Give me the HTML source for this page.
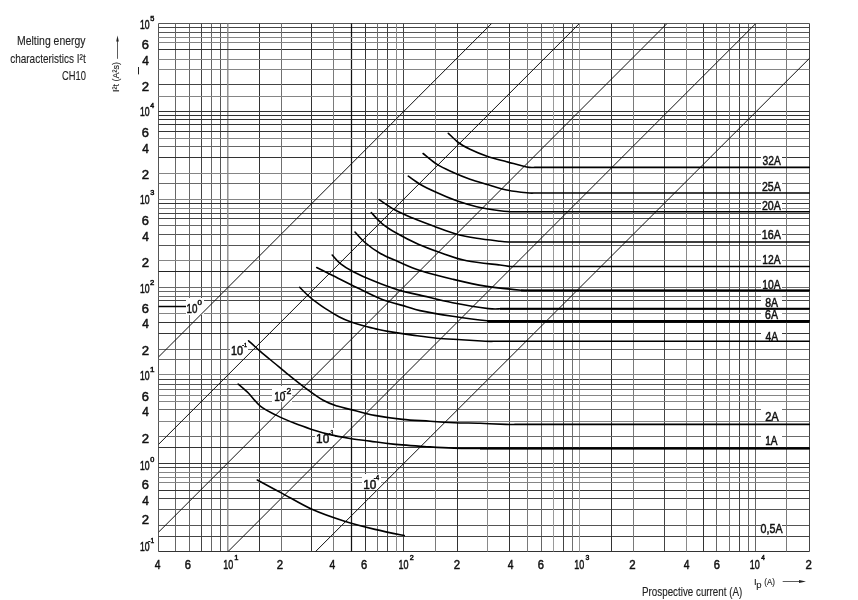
<!DOCTYPE html><html><head><meta charset="utf-8"><style>html,body{margin:0;padding:0;background:#fff;width:858px;height:600px;overflow:hidden}svg{display:block}text{font-family:"Liberation Sans",sans-serif;fill:#111;stroke:#111;stroke-width:0.5px}text.n{stroke:#222;stroke-width:0.12px;fill:#222}svg{will-change:transform}</style></head><body>
<svg width="858" height="600" viewBox="0 0 858 600">
<defs><clipPath id="c"><rect x="158.7" y="23.7" width="650.5" height="527.7"/></clipPath></defs>
<path d="M158.5 23.5V551.5M220.5 23.5V551.5M158.5 23.5H809.5M158.5 32.5H809.5M158.5 234.5H809.5M158.5 245.5H809.5M158.5 384.5H809.5M158.5 509.5H809.5M158.5 525.5H809.5" stroke="#555" stroke-width="1" fill="none"/>
<path d="M175.5 23.5V551.5M189.5 23.5V551.5M211.5 23.5V551.5M541.5 23.5V551.5M716.5 23.5V551.5M748.5 23.5V551.5M755.5 23.5V551.5M158.5 146.5H809.5M158.5 225.5H809.5M158.5 291.5H809.5M158.5 349.5H809.5" stroke="#666" stroke-width="1" fill="none"/>
<path d="M201.5 23.5V551.5M387.5 23.5V551.5M403.5 23.5V551.5M563.5 23.5V551.5M664.5 23.5V551.5M739.5 23.5V551.5M809.5 23.5V551.5M158.5 27.5H809.5M158.5 84.5H809.5M158.5 213.5H809.5M158.5 218.5H809.5M158.5 300.5H809.5M158.5 379.5H809.5M158.5 467.5H809.5M158.5 498.5H809.5M158.5 536.5H809.5" stroke="#444" stroke-width="1" fill="none"/>
<path d="M227.8 23.5V551.5" stroke="#8a8a8a" stroke-width="1.4" fill="none"/>
<path d="M259.5 23.5V551.5M311.5 23.5V551.5M365.5 23.5V551.5M457.5 23.5V551.5M509.5 23.5V551.5M611.5 23.5V551.5M703.5 23.5V551.5M158.5 49.5H809.5M158.5 111.5H809.5M158.5 115.5H809.5M158.5 119.5H809.5M158.5 124.5H809.5M158.5 131.5H809.5M158.5 157.5H809.5M158.5 203.5H809.5M158.5 322.5H809.5M158.5 333.5H809.5M158.5 447.5H809.5M158.5 463.5H809.5M158.5 490.5H809.5M158.5 551.5H809.5" stroke="#333" stroke-width="1" fill="none"/>
<path d="M281.5 23.5V551.5M377.5 23.5V551.5M572.5 23.5V551.5M729.5 23.5V551.5" stroke="#707070" stroke-width="1" fill="none"/>
<path d="M333.5 23.5V551.5M435.5 23.5V551.5M527.5 23.5V551.5M633.5 23.5V551.5M786.5 23.5V551.5" stroke="#7a7a7a" stroke-width="1" fill="none"/>
<path d="M351.5 23.5V551.5" stroke="#111" stroke-width="1.25" fill="none"/>
<path d="M396.5 23.5V551.5M487.5 23.5V551.5M686.5 23.5V551.5" stroke="#8a8a8a" stroke-width="1" fill="none"/>
<path d="M553.5 23.5V551.5M579.5 23.5V551.5" stroke="#9a9a9a" stroke-width="1" fill="none"/>
<path d="M158.5 37.5H809.5M158.5 42.5H809.5M158.5 59.5H809.5M158.5 69.5H809.5M158.5 96.5H809.5M158.5 138.5H809.5M158.5 173.5H809.5M158.5 199.5H809.5M158.5 208.5H809.5M158.5 260.5H809.5M158.5 313.5H809.5M158.5 374.5H809.5M158.5 395.5H809.5M158.5 401.5H809.5M158.5 421.5H809.5M158.5 472.5H809.5M158.5 477.5H809.5M158.5 482.5H809.5" stroke="#858585" stroke-width="1" fill="none"/>
<path d="M158.5 183.5H809.5M158.5 287.5H809.5M158.5 296.5H809.5M158.5 359.5H809.5M158.5 389.5H809.5M158.5 409.5H809.5M158.5 436.5H809.5" stroke="#6a6a6a" stroke-width="1" fill="none"/>
<path d="M158.5 271.5H809.5" stroke="#222" stroke-width="1" fill="none"/>
<path d="M158.5 306.5H187" stroke="#000" stroke-width="1.5" fill="none"/>
<rect x="186.0" y="298.0" width="18.0" height="17.0" fill="#fff"/>
<rect x="230.0" y="341.0" width="18.0" height="16.0" fill="#fff"/>
<rect x="272.0" y="386.0" width="20.0" height="16.0" fill="#fff"/>
<rect x="315.0" y="428.0" width="20.0" height="17.0" fill="#fff"/>
<rect x="362.0" y="474.0" width="19.0" height="16.0" fill="#fff"/>
<rect x="761" y="153.0" width="21" height="13.0" fill="#fff"/>
<rect x="761" y="181.0" width="21" height="10.5" fill="#fff"/>
<rect x="761" y="201.0" width="21" height="9.5" fill="#fff"/>
<rect x="761" y="228.5" width="21" height="12.0" fill="#fff"/>
<rect x="761" y="253.5" width="21" height="11.0" fill="#fff"/>
<rect x="761" y="278.5" width="21" height="11.1" fill="#fff"/>
<rect x="761" y="296.5" width="21" height="11.1" fill="#fff"/>
<rect x="761" y="309.0" width="21" height="10.8" fill="#fff"/>
<rect x="761" y="330.5" width="21" height="10.0" fill="#fff"/>
<rect x="761" y="408.0" width="21" height="13.0" fill="#fff"/>
<rect x="761" y="434.5" width="21" height="10.5" fill="#fff"/>
<rect x="761" y="522.0" width="21" height="13.0" fill="#fff"/>
<path d="M128.75 386.79L521.70 -6.64M128.70 474.20L609.50 -6.60M128.70 562.01L697.10 -6.61M198.10 581.52L785.90 -6.62M285.60 581.46L838.80 29.04" stroke="#111" stroke-width="1" fill="none" clip-path="url(#c)"/>
<path d="M448.3 133.3C450.0 134.8 454.7 139.8 458.3 142.5C461.9 145.2 465.0 146.8 470.0 149.2C475.0 151.6 482.2 154.6 488.3 156.7C494.4 158.8 500.3 160.0 506.7 161.7C513.1 163.4 522.0 166.1 526.7 167.0C531.4 167.9 533.6 167.3 535.0 167.4L809.2 167.4M423.1 153.5C425.4 155.3 431.7 161.0 436.7 164.2C441.7 167.4 447.8 170.0 453.3 172.5C458.9 175.0 464.2 177.2 470.0 179.2C475.8 181.2 482.2 182.9 488.3 184.7C494.4 186.5 500.3 188.7 506.7 190.0C513.1 191.3 522.0 192.3 526.7 192.8C531.4 193.3 533.6 193.0 535.0 193.0L809.2 193.0M408.3 176.2C410.2 177.5 415.3 181.5 420.0 184.2C424.7 186.9 430.6 189.7 436.7 192.5C442.8 195.3 450.0 198.4 456.7 200.8C463.4 203.2 469.5 205.0 476.7 206.7C483.9 208.4 494.4 210.0 500.0 210.8C505.6 211.6 508.3 211.5 510.0 211.7L809.2 211.7M379.2 199.7C381.8 201.4 389.3 206.9 395.0 210.0C400.7 213.1 406.6 215.5 413.3 218.3C420.0 221.1 427.8 224.0 435.0 226.7C442.2 229.3 449.8 232.3 456.7 234.2C463.6 236.1 469.5 237.1 476.7 238.3C483.9 239.5 494.6 240.6 500.0 241.2C505.4 241.8 507.5 241.9 509.0 242.0L809.2 242.0M371.3 212.5C373.0 214.3 377.5 219.8 381.7 223.3C385.9 226.8 390.6 229.8 396.7 233.3C402.8 236.8 411.1 241.0 418.3 244.2C425.5 247.4 431.9 249.7 440.0 252.5C448.1 255.3 456.7 258.7 466.7 260.8C476.7 262.9 492.8 264.1 500.0 265.0C507.2 265.9 508.3 266.2 510.0 266.5L809.2 266.5M355.0 232.0C356.7 233.8 360.8 238.9 365.0 242.5C369.2 246.1 374.4 250.1 380.0 253.3C385.6 256.5 391.6 258.8 398.3 261.7C405.0 264.6 410.9 267.6 420.0 270.5C429.1 273.4 441.7 276.6 452.6 279.2C463.5 281.8 473.9 284.3 485.3 286.1C496.7 287.9 513.6 289.5 521.1 290.2C528.6 290.9 528.5 290.4 530.0 290.5L809.2 290.5M332.2 255.0C333.5 256.4 336.5 260.5 340.0 263.3C343.5 266.1 347.8 268.8 353.3 271.7C358.9 274.6 365.8 277.8 373.3 280.8C380.8 283.9 390.5 287.6 398.3 290.0C406.1 292.4 410.9 293.0 420.0 295.1C429.1 297.2 441.2 300.4 452.6 302.7C464.0 304.9 480.6 307.6 488.5 308.6C496.4 309.6 498.1 308.8 500.0 308.8L809.2 308.8M316.7 267.5C319.2 268.8 325.0 271.7 331.7 275.0C338.4 278.3 348.4 283.5 356.7 287.5C365.0 291.5 373.4 296.0 381.7 299.2C390.0 302.4 400.3 304.8 406.7 306.7C413.1 308.6 412.4 309.0 420.0 310.6C427.6 312.2 441.5 314.6 452.6 316.3C463.8 318.0 479.8 320.1 486.9 320.8C494.0 321.6 493.6 320.8 495.0 320.8L809.2 320.8M299.7 287.3C301.1 288.7 305.9 293.6 308.4 295.9C310.9 298.1 311.4 298.6 314.5 300.8C317.6 303.1 322.6 306.8 326.7 309.4C330.8 312.0 334.8 314.6 338.9 316.7C343.0 318.8 347.1 320.6 351.2 322.1C355.3 323.6 359.3 324.7 363.4 325.8C367.5 326.9 371.6 328.0 375.7 328.9C379.8 329.8 381.8 330.4 387.9 331.4C394.0 332.4 404.2 334.0 412.4 335.1C420.5 336.2 428.6 337.4 436.8 338.2C445.0 339.0 453.2 339.2 461.3 339.7C469.4 340.2 479.7 340.9 485.3 341.2C490.9 341.5 493.4 341.3 495.0 341.3L809.2 341.3M248.6 340.8C250.6 342.6 256.0 347.6 260.3 351.3C264.6 355.0 269.6 359.1 274.3 363.0C279.0 366.9 283.2 370.5 288.3 374.6C293.4 378.7 298.8 383.1 304.6 387.4C310.4 391.7 317.8 397.2 323.2 400.3C328.6 403.4 332.5 404.6 337.2 406.1C341.9 407.7 345.0 408.1 351.2 409.6C357.4 411.2 365.9 413.8 374.5 415.4C383.1 417.0 393.2 418.4 402.5 419.4C411.8 420.4 421.4 420.6 430.0 421.2C438.6 421.8 445.9 422.3 454.2 422.7C462.5 423.1 471.4 423.0 480.0 423.3C488.6 423.6 500.2 424.2 506.0 424.4C511.8 424.6 513.5 424.4 515.0 424.4L809.2 424.4M238.2 384.0C239.9 385.6 244.9 389.6 248.6 393.3C252.3 397.0 255.6 402.4 260.3 406.1C265.0 409.8 270.8 412.5 276.6 415.4C282.4 418.3 289.5 421.3 295.3 423.6C301.1 425.9 306.2 427.6 311.6 429.4C317.0 431.1 321.3 432.6 327.9 434.1C334.5 435.7 344.2 437.5 351.2 438.7C358.2 439.9 362.9 440.2 369.9 441.1C376.9 442.0 383.2 443.1 393.2 444.1C403.2 445.1 419.8 446.2 430.0 446.9C440.2 447.6 445.9 447.9 454.2 448.1C462.5 448.4 474.0 448.3 480.0 448.4C486.0 448.4 488.3 448.4 490.0 448.4L809.2 448.4M257.3 480.0C261.3 482.1 272.1 488.0 281.3 492.9C290.5 497.8 302.1 504.9 312.5 509.6C322.9 514.3 333.4 517.7 343.8 521.0C354.2 524.3 364.9 527.0 375.0 529.4C385.1 531.8 399.3 534.6 404.2 535.6" stroke="#000" stroke-width="1.6" fill="none" stroke-linecap="round" stroke-linejoin="round"/>
<path d="M487 321.4H809.5" stroke="#000" stroke-width="2.6"/><path d="M521 290.5H809.5M480 448.4H809.5M500 308.8H809.5" stroke="#000" stroke-width="2"/>
<text transform="translate(186.46 313.00) scale(0.762 1)" font-size="12.86">10</text><text transform="translate(197.38 304.70) scale(1.066 1)" font-size="7.43">0</text><text transform="translate(230.89 355.00) scale(0.911 1)" font-size="11.86">10</text><text transform="translate(242.26 346.70) scale(0.862 1)" font-size="6.09">-1</text><text transform="translate(274.25 400.80) scale(0.843 1)" font-size="11.86">10</text><text transform="translate(283.62 394.00) scale(0.921 1)" font-size="9.29">-2</text><text transform="translate(316.12 443.30) scale(0.888 1)" font-size="13.29">10</text><text transform="translate(328.78 434.60) scale(0.669 1)" font-size="7.43">-3</text><text transform="translate(363.31 488.80) scale(0.879 1)" font-size="13.43">10</text><text transform="translate(373.72 480.00) scale(0.847 1)" font-size="7.25">-4</text><text transform="translate(762.59 164.70) scale(0.764 1)" font-size="13.43">32A</text><text transform="translate(761.97 191.00) scale(0.854 1)" font-size="12.43">25A</text><text transform="translate(761.97 209.70) scale(0.834 1)" font-size="12.71">20A</text><text transform="translate(761.69 239.20) scale(0.837 1)" font-size="12.86">16A</text><text transform="translate(762.23 263.50) scale(0.848 1)" font-size="12.14">12A</text><text transform="translate(762.23 289.00) scale(0.801 1)" font-size="12.86">10A</text><text transform="translate(765.13 307.00) scale(0.821 1)" font-size="12.86">8A</text><text transform="translate(765.07 319.00) scale(0.843 1)" font-size="12.57">6A</text><text transform="translate(765.39 341.00) scale(0.804 1)" font-size="12.86">4A</text><text transform="translate(765.14 420.50) scale(0.915 1)" font-size="12.14">2A</text><text transform="translate(765.25 444.50) scale(0.827 1)" font-size="12.14">1A</text><text transform="translate(760.57 532.80) scale(0.830 1)" font-size="12.86">0,5A</text><text transform="translate(139.95 29.40) scale(0.692 1)" font-size="12.57">10</text><text transform="translate(150.21 21.20) scale(1.059 1)" font-size="6.96">5</text><text transform="translate(139.95 116.30) scale(0.692 1)" font-size="12.57">10</text><text transform="translate(150.36 108.10) scale(0.996 1)" font-size="6.96">4</text><text transform="translate(139.95 203.50) scale(0.692 1)" font-size="12.57">10</text><text transform="translate(150.21 195.30) scale(1.075 1)" font-size="6.86">3</text><text transform="translate(139.95 293.10) scale(0.692 1)" font-size="12.57">10</text><text transform="translate(150.12 284.90) scale(1.122 1)" font-size="6.86">2</text><text transform="translate(139.95 380.40) scale(0.692 1)" font-size="12.57">10</text><text transform="translate(149.90 372.20) scale(1.157 1)" font-size="6.96">1</text><text transform="translate(139.95 469.90) scale(0.692 1)" font-size="12.57">10</text><text transform="translate(150.21 461.70) scale(1.063 1)" font-size="6.86">0</text><text transform="translate(139.95 551.40) scale(0.692 1)" font-size="12.57">10</text><text transform="translate(148.30 542.60) scale(0.896 1)" font-size="7.39">-1</text><text transform="translate(141.85 48.70) scale(1.026 1)" font-size="12.57">6</text><text transform="translate(142.26 64.70) scale(0.932 1)" font-size="12.75">4</text><text transform="translate(141.84 90.50) scale(1.049 1)" font-size="12.57">2</text><text transform="translate(141.85 137.30) scale(1.026 1)" font-size="12.57">6</text><text transform="translate(142.26 152.80) scale(0.932 1)" font-size="12.75">4</text><text transform="translate(141.84 178.90) scale(1.049 1)" font-size="12.57">2</text><text transform="translate(141.85 224.90) scale(1.026 1)" font-size="12.57">6</text><text transform="translate(142.26 240.60) scale(0.932 1)" font-size="12.75">4</text><text transform="translate(141.84 266.60) scale(1.049 1)" font-size="12.57">2</text><text transform="translate(141.85 312.50) scale(1.026 1)" font-size="12.57">6</text><text transform="translate(142.26 328.10) scale(0.932 1)" font-size="12.75">4</text><text transform="translate(141.84 355.30) scale(1.049 1)" font-size="12.57">2</text><text transform="translate(141.85 401.40) scale(1.026 1)" font-size="12.57">6</text><text transform="translate(142.26 415.90) scale(0.932 1)" font-size="12.75">4</text><text transform="translate(141.84 442.50) scale(1.049 1)" font-size="12.57">2</text><text transform="translate(141.85 488.90) scale(1.026 1)" font-size="12.57">6</text><text transform="translate(142.26 504.60) scale(0.932 1)" font-size="12.75">4</text><text transform="translate(141.84 524.20) scale(1.049 1)" font-size="12.57">2</text><text transform="translate(154.69 568.50) scale(0.789 1)" font-size="13.04">4</text><text transform="translate(184.84 568.50) scale(0.870 1)" font-size="12.86">6</text><text transform="translate(276.83 568.50) scale(0.889 1)" font-size="12.86">2</text><text transform="translate(329.39 568.50) scale(0.789 1)" font-size="13.04">4</text><text transform="translate(360.94 568.50) scale(0.870 1)" font-size="12.86">6</text><text transform="translate(453.83 568.50) scale(0.889 1)" font-size="12.86">2</text><text transform="translate(507.69 568.50) scale(0.789 1)" font-size="13.04">4</text><text transform="translate(537.84 568.50) scale(0.870 1)" font-size="12.86">6</text><text transform="translate(629.33 568.50) scale(0.889 1)" font-size="12.86">2</text><text transform="translate(683.69 568.50) scale(0.789 1)" font-size="13.04">4</text><text transform="translate(713.64 568.50) scale(0.870 1)" font-size="12.86">6</text><text transform="translate(805.43 568.50) scale(0.889 1)" font-size="12.86">2</text><text transform="translate(223.22 568.50) scale(0.700 1)" font-size="12.86">10</text><text transform="translate(234.33 560.30) scale(1.047 1)" font-size="7.25">1</text><text transform="translate(398.43 568.50) scale(0.700 1)" font-size="12.86">10</text><text transform="translate(409.74 560.30) scale(1.015 1)" font-size="7.14">2</text><text transform="translate(574.23 568.50) scale(0.700 1)" font-size="12.86">10</text><text transform="translate(585.62 560.30) scale(0.973 1)" font-size="7.14">3</text><text transform="translate(749.83 568.50) scale(0.700 1)" font-size="12.86">10</text><text transform="translate(761.37 560.30) scale(0.902 1)" font-size="7.25">4</text><text class="n" transform="translate(17.06 45.40) scale(0.801 1)" font-size="13.04">Melting energy</text><text class="n" transform="translate(10.20 62.80) scale(0.766 1)" font-size="13.04">characteristics I²t</text><text class="n" transform="translate(62.03 79.60) scale(0.717 1)" font-size="13.04">CH10</text><text class="n" transform="translate(642.01 595.90) scale(0.828 1)" font-size="11.86">Prospective current (A)</text><text class="n" x="753.9" y="585.2" font-size="9.6">I</text><text class="n" x="756.2" y="587.6" font-size="9.5">p</text><text class="n" transform="translate(764.21 584.50) scale(0.903 1)" font-size="8.97">(A)</text><path d="M782.7 581.5H801" stroke="#333" stroke-width="0.8"/><path d="M806 581.5L799 580L799 583Z" fill="#222"/><g transform="translate(117.5 0)"><path d="M0 41V58.8" stroke="#333" stroke-width="0.8"/><path d="M0 35.6L-1.3 41.5H1.3Z" fill="#222"/></g><g transform="translate(119.4 91.3) rotate(-90)"><text class="n" transform="translate(-0.82 0.00) scale(0.966 1)" font-size="9.38">I²t (A²s)</text></g><path d="M138.5 67V74.4" stroke="#222" stroke-width="1"/>
</svg></body></html>
